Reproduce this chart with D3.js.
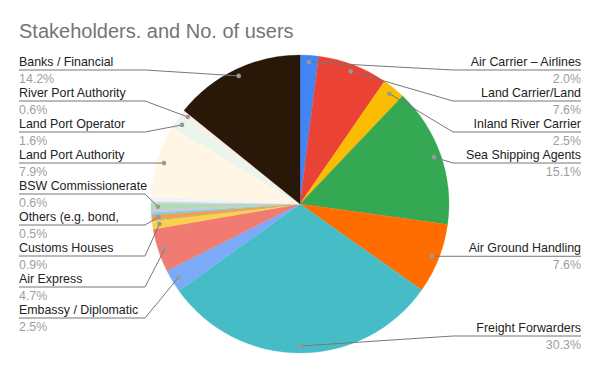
<!DOCTYPE html>
<html>
<head>
<meta charset="utf-8">
<script src="https://cdn.jsdelivr.net/npm/d3@7"></script>
<style>
  body { margin: 0; background: #fff; }
  svg { display: block; font-family: Arial, "Liberation Sans", sans-serif; }
</style>
</head>
<body>
<svg id="chart" width="600" height="371"></svg>
<script>
// slices, clockwise from 12 o'clock
var categories = [
    "Air Carrier \u2013 Airlines", "Land Carrier/Land", "Inland River Carrier", "Sea Shipping Agents",
    "Air Ground Handling", "Freight Forwarders", "Embassy / Diplomatic", "Air Express",
    "Customs Houses", "Other A", "Others (e.g. bond,", "Other B", "Other C", "Other D",
    "BSW Commissionerate", "Other E", "Other F", "Other G",
    "Land Port Authority", "Land Port Operator", "River Port Authority", "Banks / Financial"
];
var shares = [
    2.0, 7.6, 2.5, 15.1,
    7.6, 30.3, 2.5, 4.7,
    0.9, 0.1, 0.5, 0.3, 0.2, 0.1,
    0.6, 0.1, 0.2, 0.4,
    7.9, 1.6, 0.6, 14.2
];
var colors = [
    "#4285f4", "#ea4335", "#fbbc04", "#34a853",
    "#ff6d01", "#46bdc6", "#7baaf7", "#f07b72",
    "#fcd04f", "#71c287", "#ff994d", "#7ed1d7", "#b3cefb", "#f7b4ae",
    "#aedcba", "#ffc599", "#b5e5e8", "#ecf3fe",
    "#fff6e6", "#e9f5ed", "#fcede6", "#291807"
];

var svg = d3.select("#chart");
var cx = 300, cy = 204, radius = 149;

svg.append("text")
    .attr("x", 19).attr("y", 38)
    .attr("font-size", 20).attr("fill", "#757575")
    .text("Stakeholders. and No. of users");

var data = categories.map(function (c, i) { return { name: c, value: shares[i], color: colors[i] }; });

var pie = d3.pie().sort(null).value(function (d) { return d.value; });
var arcs = pie(data);
var arc = d3.arc().innerRadius(0).outerRadius(radius);
var dotArc = d3.arc().innerRadius(142).outerRadius(142);

var g = svg.append("g").attr("transform", "translate(" + cx + "," + cy + ")");
g.selectAll("path")
    .data(arcs)
    .enter().append("path")
    .attr("d", arc)
    .attr("fill", function (d) { return d.data.color; })
    .attr("stroke", function (d) { return d.data.color; })
    .attr("stroke-width", 0.3);

// labels for slices of 0.5% and up
var labels = arcs.filter(function (d) { return d.data.value >= 0.5; }).map(function (d) {
    var c = dotArc.centroid(d);
    var mid = (d.startAngle + d.endAngle) / 2;
    return { d: d, dx: cx + c[0], dy: cy + c[1], left: mid > Math.PI, y: cy + c[1] };
});

function layout(list) {
    var step = 31, top = 70, bottom = 336;
    list.sort(function (a, b) { return a.dy - b.dy; });
    var clusters = list.map(function (l) { return { items: [l], y: l.dy }; });
    function place(c) {
        var mean = d3.mean(c.items, function (l) { return l.dy; });
        var start = mean - (c.items.length - 1) * step / 2;
        start = Math.max(top, Math.min(bottom - (c.items.length - 1) * step, start));
        c.y = start;
    }
    clusters.forEach(place);
    var merged = true;
    while (merged) {
        merged = false;
        for (var i = 0; i < clusters.length - 1; i++) {
            var a = clusters[i], b = clusters[i + 1];
            if (a.y + a.items.length * step > b.y) {
                a.items = a.items.concat(b.items);
                clusters.splice(i + 1, 1);
                place(a);
                merged = true;
                break;
            }
        }
    }
    clusters.forEach(function (c) {
        c.items.forEach(function (l, k) { l.y = c.y + k * step; });
    });
}
layout(labels.filter(function (l) { return l.left; }));
layout(labels.filter(function (l) { return !l.left; }));

var lab = svg.append("g");
labels.forEach(function (l) {
    var x0 = l.left ? 19 : 581, x1 = l.left ? 145 : 453;
    var pts = [[x0, l.y], [x1, l.y], [l.dx, l.dy]];
    if ((l.left && l.dx < x1) || (!l.left && l.dx > x1)) pts = [[x0, l.y], [l.dx, l.dy]];
    lab.append("path")
        .attr("d", d3.line()(pts))
        .attr("fill", "none").attr("stroke", "#777").attr("stroke-width", 1);
    lab.append("circle")
        .attr("cx", l.dx).attr("cy", l.dy).attr("r", 2.3)
        .attr("fill", "#999");
    lab.append("text")
        .attr("x", x0).attr("y", l.y - 4)
        .attr("text-anchor", l.left ? "start" : "end")
        .attr("font-size", 12.4).attr("fill", "#222")
        .text(l.d.data.name);
    lab.append("text")
        .attr("x", x0).attr("y", l.y + 13)
        .attr("text-anchor", l.left ? "start" : "end")
        .attr("font-size", 12.4).attr("fill", "#9e9e9e")
        .text(d3.format(".1f")(l.d.data.value) + "%");
});
</script>
</body>
</html>
